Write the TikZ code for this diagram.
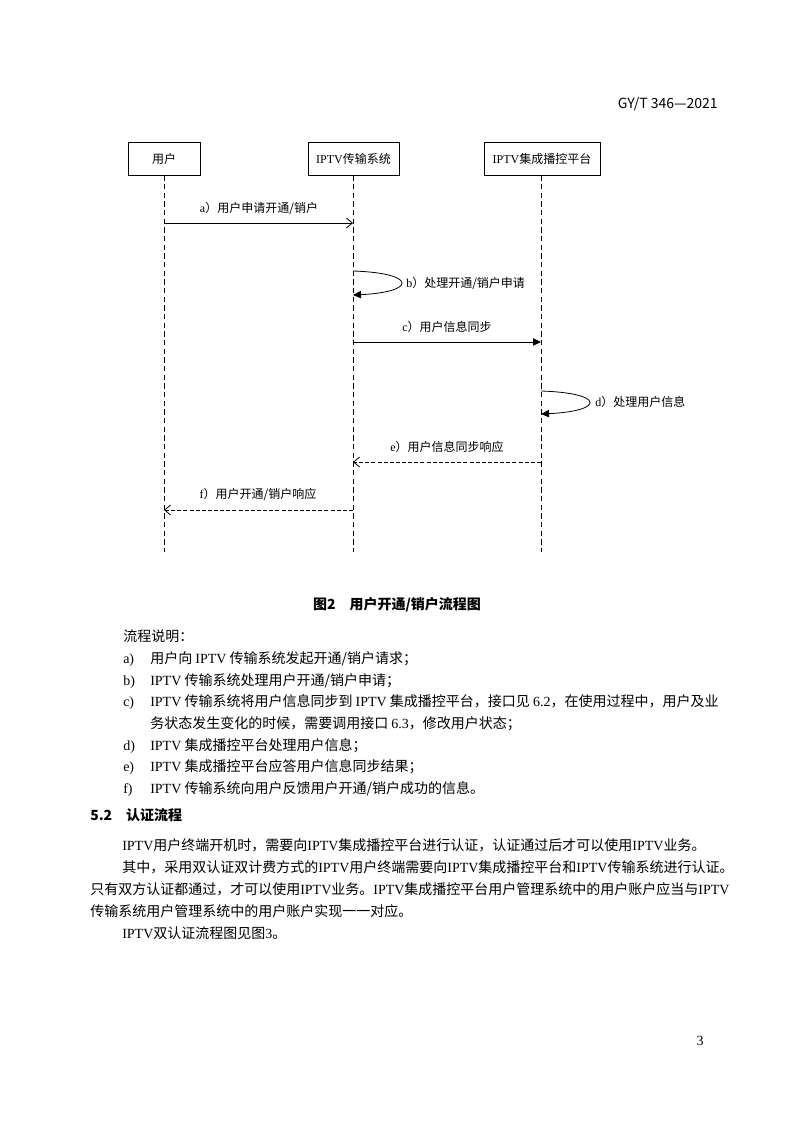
\documentclass[tikz,border=0pt]{standalone}
\usepackage{fontspec}
\setmainfont{Noto Sans CJK SC}
\newfontfamily\tm{Liberation Serif}
\usetikzlibrary{arrows.meta}
\newcommand\IPTV{{\tm IPTV}}
\begin{document}
\begin{tikzpicture}[x=0.75pt,y=-0.75pt,
  box/.style={draw,line width=0.7pt,inner sep=0pt,minimum height={33*0.75pt},font=\fontsize{9pt}{10pt}\selectfont},
  life/.style={line width=0.6pt,dash pattern=on 4pt off 2.5pt},
  msg/.style={line width=0.6pt},
  ret/.style={line width=0.6pt,dash pattern=on 3pt off 1.6pt},
  openhead/.style={-{Straight Barb[length=4.5pt,width=7.5pt]}},
  fillhead/.style={-{Triangle[length=6pt,width=5.5pt]}},
  lbl/.style={inner sep=0pt,font=\fontsize{9pt}{10pt}\selectfont},
  body/.style={anchor=base west,inner sep=0pt,font=\fontsize{10.5pt}{12pt}\selectfont},
]
\useasboundingbox (0,0) rectangle (793,1122);
\fill[white] (0,0) rectangle (793,1122);

% header and page number
\node[anchor=base east,inner sep=0pt,font=\fontsize{10.5pt}{12pt}\selectfont] (hdr) at (718,108) {GY/T 346—2021};
\node[anchor=base,inner sep=0pt,font=\fontsize{10.5pt}{12pt}\selectfont\tm] (pg) at (700,1045) {3};

% lifeline heads
\node[box,minimum width={72*0.75pt}] (u) at (164,158.5) {用户};
\node[box,minimum width={91*0.75pt}] (s) at (353.5,158.5) {\IPTV 传输系统};
\node[box,minimum width={116*0.75pt}] (p) at (542,158.5) {\IPTV 集成播控平台};

% lifeline ends
\coordinate (ue) at (164,552);
\coordinate (se) at (353,552);
\coordinate (pe) at (541,552);
\draw[life] (u.south -| ue) -- (ue);
\draw[life] (s.south -| se) -- (se);
\draw[life] (p.south -| pe) -- (pe);

% message end points
\coordinate (a1) at (164,223); \coordinate (a2) at (353,223);
\coordinate (b1) at (353,271); \coordinate (b2) at (353,295);
\coordinate (c1) at (353,342); \coordinate (c2) at (541,342);
\coordinate (d1) at (541,391); \coordinate (d2) at (541,414);
\coordinate (e1) at (541,462); \coordinate (e2) at (353,462);
\coordinate (f1) at (353,510); \coordinate (f2) at (164,510);

% messages
\draw[msg,openhead] (a1) -- (a2);
\node[lbl] (la) at (259,208) {{\tm a}）用户申请开通/销户};

\draw[msg,fillhead] (b1) .. controls (417,273) and (417,292) .. (b2);
\node[lbl,anchor=west] (lb) at (406,283) {{\tm b}）处理开通/销户申请};

\draw[msg,fillhead] (c1) -- (c2);
\node[lbl] (lc) at (447,327) {{\tm c}）用户信息同步};

\draw[msg,fillhead] (d1) .. controls (605,393) and (605,411) .. (d2);
\node[lbl,anchor=west] (ld) at (595,402) {{\tm d}）处理用户信息};

\draw[ret,openhead] (e1) -- (e2);
\node[lbl] (le) at (447,447) {{\tm e}）用户信息同步响应};

\draw[ret,openhead] (f1) -- (f2);
\node[lbl] (lf) at (258,494) {{\tm f}）用户开通/销户响应};

% caption
\node[inner sep=0pt,font=\fontsize{10.5pt}{12pt}\selectfont\bfseries] (cap) at (397,605) {图2\hspace{1em}用户开通/销户流程图};

% description list
\node[body] (t0) at (123,641) {流程说明：};
\node[body] (ka) at (123,663) {\tm a)};
\node[body] (ta) at (150,663) {用户向 \IPTV{} 传输系统发起开通/销户请求；};
\node[body] (kb) at (123,685) {\tm b)};
\node[body] (tb) at (150,685) {\IPTV{} 传输系统处理用户开通/销户申请；};
\node[body] (kc) at (123,706) {\tm c)};
\node[body] (tc) at (150,706) {\IPTV{} 传输系统将用户信息同步到 \IPTV{} 集成播控平台，接口见 {\tm 6.2}，在使用过程中，用户及业};
\node[body] (tc2) at (150,728) {务状态发生变化的时候，需要调用接口 {\tm 6.3}，修改用户状态；};
\node[body] (kd) at (123,750) {\tm d)};
\node[body] (td) at (150,750) {\IPTV{} 集成播控平台处理用户信息；};
\node[body] (ke) at (123,771) {\tm e)};
\node[body] (te) at (150,771) {\IPTV{} 集成播控平台应答用户信息同步结果；};
\node[body] (kf) at (123,793) {\tm f)};
\node[body] (tf) at (150,793) {\IPTV{} 传输系统向用户反馈用户开通/销户成功的信息。};

% section 5.2
\node[body,font=\fontsize{10.5pt}{12pt}\selectfont\bfseries] (h52) at (90,820) {5.2\hspace{1em}认证流程};
\node[body] (p1) at (122,850) {\IPTV 用户终端开机时，需要向\IPTV 集成播控平台进行认证，认证通过后才可以使用\IPTV 业务。};
\node[body] (p2) at (122,872) {其中，采用双认证双计费方式的\IPTV 用户终端需要向\IPTV 集成播控平台和\IPTV 传输系统进行认证。};
\node[body] (p3) at (90,894) {只有双方认证都通过，才可以使用\IPTV 业务。\IPTV 集成播控平台用户管理系统中的用户账户应当与\IPTV};
\node[body] (p4) at (90,916) {传输系统用户管理系统中的用户账户实现一一对应。};
\node[body] (p5) at (122,938) {\IPTV 双认证流程图见图{\tm 3}。};
\end{tikzpicture}
\end{document}
